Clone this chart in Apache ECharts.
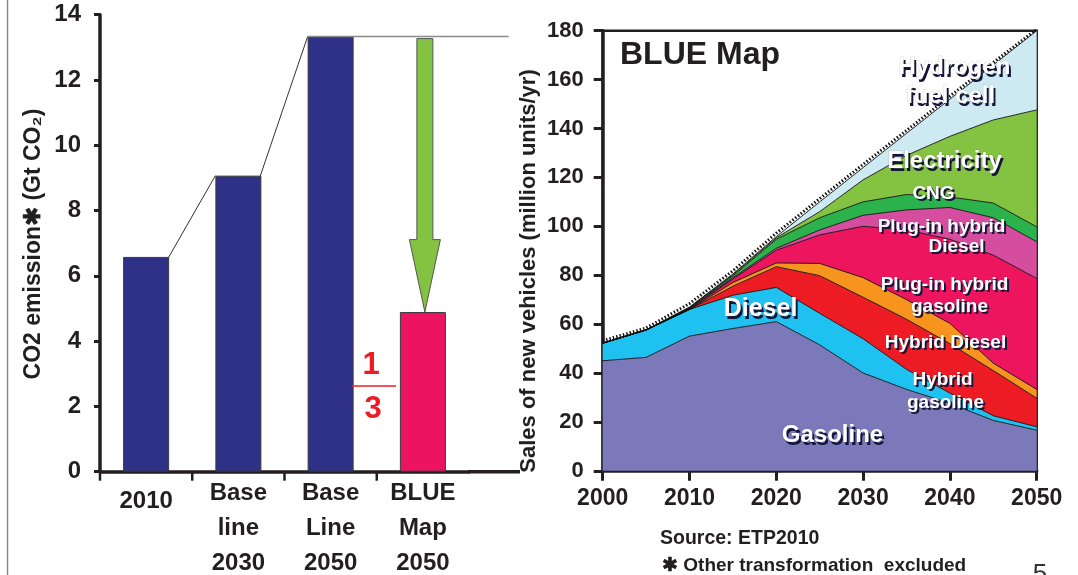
<!DOCTYPE html>
<html>
<head>
<meta charset="utf-8">
<script src="https://cdn.jsdelivr.net/npm/echarts@6/dist/echarts.min.js"></script>
<style>
html,body{margin:0;padding:0;background:#fff;}
#chart{width:1078px;height:575px;}
</style>
</head>
<body>
<div id="chart"></div>
<script>
// ---------- Left chart data ----------
const co2Categories = ['2010', 'Base\nline\n2030', 'Base\nLine\n2050', 'BLUE\nMap\n2050'];
const co2Values = [6.58, 9.07, 13.33, 4.89];
const co2TickMin = 0, co2TickMax = 14, co2TickStep = 2;

// ---------- Right chart data (million units/yr) ----------
const years = ['2000','2005','2010','2015','2020','2025','2030','2035','2040','2045','2050'];
const gasoline        = [45, 46.4, 55.1, 58.2, 61, 51.5, 40, 33.3, 27.6, 20.6, 16.6];
const diesel          = [7.2, 11.2, 10.9, 13.6, 14, 12.9, 14, 8.2, 4.2, 1.9, 1.4];
const hybridGasoline  = [0, 0, 0, 3.7, 8.5, 15.4, 17, 20.5, 20.2, 18.5, 11.7];
const hybridDiesel    = [0, 0, 0, 1.5, 1.5, 5, 8, 8, 8.3, 3, 3.6];
const plugInGasoline  = [0, 0, 0.2, 1.5, 5.2, 11.7, 21, 28.5, 34.4, 44.2, 45.4];
const plugInDiesel    = [0, 0, 0.1, 0.5, 0.8, 2, 4.5, 8.2, 13, 15.3, 15];
const cng             = [0, 0, 0.3, 0.7, 3.7, 5, 5.5, 6.3, 4.3, 6, 6.1];
const electricity     = [0, 0, 0.2, 0.5, 0.6, 2.5, 9, 16, 24.8, 34, 47.8];
const hydrogen        = [0, 0, 0.2, 0.3, 0.5, 4, 5, 9, 15.2, 22.5, 32.4];
const totalDotted     = [53.2, 58.4, 68.4, 81.8, 97.2, 111.3, 125.3, 139.2, 153.2, 167, 180.6];
const salesTickMin = 0, salesTickMax = 180, salesTickStep = 20;

// ---------- styles ----------
const FONT = '"Liberation Sans", Arial, sans-serif';
const INK = '#231f20';
const barColors = ['#2e3187', '#2e3187', '#2e3187', '#ec1461'];
const layerColors = ['#7b79b9', '#1ec1ef', '#ed1c24', '#f7941e', '#ec155e', '#d64c9e', '#2bb24c', '#84c341', '#cde9f1'];

const chart = echarts.init(document.getElementById('chart'), null, {renderer: 'canvas'});

const layers = [
  ['Gasoline', gasoline], ['Diesel', diesel], ['Hybrid gasoline', hybridGasoline],
  ['Hybrid Diesel', hybridDiesel], ['Plug-in hybrid gasoline', plugInGasoline],
  ['Plug-in hybrid Diesel', plugInDiesel], ['CNG', cng], ['Electricity', electricity],
  ['Hydrogen fuel cell', hydrogen]
];

const areaSeries = layers.map((l, i) => ({
  name: l[0], type: 'line', xAxisIndex: 1, yAxisIndex: 1, stack: 'sales',
  data: l[1], symbol: 'none', smooth: false,
  lineStyle: {color: '#111', width: 0.9},
  areaStyle: {color: layerColors[i], opacity: 1},
  itemStyle: {color: layerColors[i]},
  z: 2
}));

function shadowText(text, cx, cy, size) {
  const base = {
    type: 'text', z: 100,
    style: {text: text, font: 'bold ' + size + 'px ' + FONT, align: 'center', verticalAlign: 'middle'}
  };
  return [
    Object.assign({}, base, {x: cx + 1.5, y: cy + 2, style: Object.assign({}, base.style, {fill: '#15153a', shadowBlur: 2.5, shadowColor: 'rgba(0,0,0,0.7)'})}),
    Object.assign({}, base, {x: cx - 0.5, y: cy - 0.5, style: Object.assign({}, base.style, {fill: '#ffffff', stroke: 'rgba(60,60,80,0.35)', lineWidth: 0.6})})
  ];
}

const labelSpecs = [
  ['Hydrogen', 955, 68, 24], ['fuel cell', 951, 97, 24],
  ['Electricity', 945, 162, 24], ['CNG', 934, 194, 19],
  ['Plug-in hybrid', 942, 227, 19], ['Diesel', 957, 247, 19],
  ['Plug-in hybrid', 945, 285, 19], ['gasoline', 950, 307, 19],
  ['Hybrid Diesel', 946, 343, 19], ['Hybrid', 943, 380, 19], ['gasoline', 946, 403, 19],
  ['Diesel', 761, 310, 25], ['Gasoline', 833, 436, 24]
];
let graphics = [];
labelSpecs.forEach(s => { graphics = graphics.concat(shadowText(s[0], s[1], s[2], s[3])); });

graphics = graphics.concat([
  // slide border
  {type: 'line', shape: {x1: 7.5, y1: 0, x2: 7.5, y2: 575}, style: {stroke: '#8a8a8a', lineWidth: 1.5}, z: 1},
  // extension of left x axis line
  {type: 'line', shape: {x1: 468, y1: 471.7, x2: 520, y2: 471.7}, style: {stroke: INK, lineWidth: 3.5}, z: 5},
  // axis names
  {type: 'text', x: 34, y: 244, rotation: Math.PI / 2, z: 10,
   style: {text: 'CO2 emission\u2731 (Gt CO\u2082)', font: 'bold 23px ' + FONT, fill: INK, align: 'center', verticalAlign: 'middle'}},
  {type: 'text', x: 529, y: 271, rotation: Math.PI / 2, z: 10,
   style: {text: 'Sales of new vehicles (million units/yr)', font: 'bold 22px ' + FONT, fill: INK, align: 'center', verticalAlign: 'middle'}},
  // 1/3
  {type: 'text', x: 371, y: 365, z: 10, style: {text: '1', font: 'bold 31px ' + FONT, fill: '#ed1c24', align: 'center', verticalAlign: 'middle'}},
  {type: 'line', shape: {x1: 352, y1: 386, x2: 396, y2: 386}, style: {stroke: '#ed1c24', lineWidth: 1.5}, z: 10},
  {type: 'text', x: 373, y: 409, z: 10, style: {text: '3', font: 'bold 31px ' + FONT, fill: '#ed1c24', align: 'center', verticalAlign: 'middle'}},
  // titles and notes
  {type: 'text', x: 620, y: 55, z: 10, style: {text: 'BLUE Map', font: 'bold 32px ' + FONT, fill: INK, align: 'left', verticalAlign: 'middle'}},
  {type: 'text', x: 660, y: 539, z: 10, style: {text: 'Source: ETP2010', font: 'bold 19.5px ' + FONT, fill: INK, align: 'left', verticalAlign: 'middle'}},
  {type: 'text', x: 662, y: 566, z: 10, style: {text: '\u2731 Other transformation  excluded', font: 'bold 19px ' + FONT, fill: INK, align: 'left', verticalAlign: 'middle'}},
  {type: 'text', x: 1040, y: 562, z: 10, style: {text: '5', font: '26px ' + FONT, fill: '#333', align: 'center', verticalAlign: 'top'}}
]);

function connectorRender(params, api) {
  const i = params.dataIndex;
  const band = api.size([1, 0])[0];
  const half = 23;
  const p = api.coord([i, co2Values[i]]);
  const base = api.coord([i, 0]);
  const children = [];
  // category tick at the left boundary of this band
  children.push({type: 'line', shape: {x1: base[0] - band / 2, y1: base[1], x2: base[0] - band / 2, y2: base[1] + 9},
    style: {stroke: INK, lineWidth: 2.5}});
  if (i < 2) {
    const q = api.coord([i + 1, co2Values[i + 1]]);
    children.push({type: 'line', shape: {x1: p[0] + half - 2, y1: p[1] + 3, x2: q[0] - half, y2: q[1]},
      style: {stroke: '#333', lineWidth: 1}});
  }
  if (i === 2) {
    const end = api.coord([3, co2Values[3]])[0] + band * 0.93;
    children.push({type: 'line', shape: {x1: p[0] - half, y1: p[1], x2: end, y2: p[1]},
      style: {stroke: '#8a8a8a', lineWidth: 1.5}});
  }
  if (i === 3) {
    const top = api.coord([2, co2Values[2]])[1] + 2;
    const tip = p[1];
    const cx = p[0] + 2;
    const headLen = (tip - top) * 0.265;
    const hs = tip - headLen;
    const sw = 8, hw = 15.5;
    children.push({type: 'polygon', shape: {points: [
      [cx - sw, top], [cx + sw, top], [cx + sw, hs], [cx + hw, hs], [cx, tip], [cx - hw, hs], [cx - sw, hs]
    ]}, style: {fill: '#84c341', stroke: '#555', lineWidth: 1}});
  }
  return {type: 'group', children: children};
}

const option = {
  animation: false,
  backgroundColor: '#fff',
  textStyle: {fontFamily: FONT},
  grid: [
    {left: 100, top: 14.7, width: 369, height: 457, containLabel: false, outerBoundsMode: 'none'},
    {left: 602.7, top: 30.7, width: 434, height: 440.1, show: true, borderColor: INK, borderWidth: 2.5,
     containLabel: false, outerBoundsMode: 'none'}
  ],
  xAxis: [
    {type: 'category', gridIndex: 0, data: co2Categories, boundaryGap: true,
     axisLine: {show: true, lineStyle: {color: INK, width: 3.5}},
     axisTick: {show: false},
     axisLabel: {color: INK, fontWeight: 'bold', fontSize: 24, fontFamily: FONT, lineHeight: 35, margin: 4, interval: 0,
       formatter: v => v === '2010' ? '{a|2010}' : v,
       rich: {a: {fontWeight: 'bold', fontSize: 24, fontFamily: FONT, color: INK, lineHeight: 35, padding: [16, 0, 0, 0]}}},
     splitLine: {show: false}},
    {type: 'category', gridIndex: 1, data: years, boundaryGap: false,
     axisLine: {show: true, lineStyle: {color: INK, width: 3.5}},
     axisTick: {show: true, length: 10, interval: 1, lineStyle: {color: INK, width: 3}},
     axisLabel: {color: INK, fontWeight: 'bold', fontSize: 23, fontFamily: FONT, margin: 16, interval: 1},
     splitLine: {show: false}}
  ],
  yAxis: [
    {type: 'value', gridIndex: 0, min: co2TickMin, max: co2TickMax, interval: co2TickStep,
     axisLine: {show: true, lineStyle: {color: INK, width: 3.5}},
     axisTick: {show: true, length: 6, lineStyle: {color: INK, width: 3}},
     axisLabel: {color: INK, fontWeight: 'bold', fontSize: 24, fontFamily: FONT, margin: 19},
     splitLine: {show: false}},
    {type: 'value', gridIndex: 1, min: salesTickMin, max: salesTickMax, interval: salesTickStep,
     axisLine: {show: true, lineStyle: {color: INK, width: 3.5}},
     axisTick: {show: true, length: 9, lineStyle: {color: INK, width: 3}},
     axisLabel: {color: INK, fontWeight: 'bold', fontSize: 22, fontFamily: FONT, margin: 19},
     splitLine: {show: false}}
  ],
  series: [
    {name: 'CO2 emission', type: 'bar', xAxisIndex: 0, yAxisIndex: 0, data: co2Values, barWidth: 46,
     itemStyle: {color: p => barColors[p.dataIndex], borderColor: '#3a3a3a', borderWidth: 1}, z: 2},
    {name: 'connectors', type: 'custom', xAxisIndex: 0, yAxisIndex: 0,
     data: co2Values.map((v, i) => [i, v]), renderItem: connectorRender, z: 4, silent: true}
  ].concat(areaSeries).concat([
    {name: 'Total', type: 'line', xAxisIndex: 1, yAxisIndex: 1, data: totalDotted, symbol: 'none',
     lineStyle: {color: '#111', width: 3, type: [1.5, 2]}, z: 5}
  ]),
  graphic: graphics
};
chart.setOption(option);
</script>
</body>
</html>
